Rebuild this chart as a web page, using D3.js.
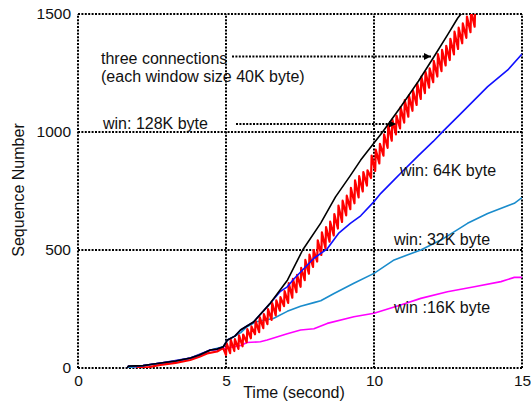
<!DOCTYPE html>
<html><head><meta charset="utf-8">
<script src="https://cdn.jsdelivr.net/npm/d3@7"></script>
<style>
html,body{margin:0;padding:0;background:#fff;}
text{font-family:"Liberation Sans",Arial,sans-serif;fill:#111;}
</style></head>
<body><svg id="c" width="531" height="403"></svg>
<script>
// ---------- data ----------
const xTicks = [0, 5, 10, 15];
const yTicks = [0, 500, 1000, 1500];

const blackTime = [1.66,1.7,2.2,2.5,2.8,3.3,3.8,4.1,4.47,4.7,4.91,5.05,5.3,5.49,5.93,6.5,7.08,7.59,8.2,8.7,9.2,9.55,10.29,10.9,11.5,12.02,12.5,12.83,12.94,13.1];
const blackSeq  = [0,8,10,16,21,30,42,55,76,80,90,119,135,161,195,275,373,500,614,725,815,881,1000,1106,1215,1318,1415,1483,1500,1530];

const blueTime = [1.66,1.7,2.2,2.5,2.8,3.3,3.8,4.1,4.47,4.7,4.91,5.05,5.3,5.49,5.93,6.5,6.84,7.07,7.3,7.97,8.42,8.8,9.2,9.55,10.0,10.23,10.68,10.9,11.5,12.0,12.37,12.94,13.84,14.52,15.0];
const blueSeq  = [0,8,10,16,21,30,42,55,76,80,90,119,135,161,195,275,325,344,378,465,505,570,613,645,705,740,797,825,900,960,1008,1079,1192,1263,1330];

const cyanTime = [1.66,2.8,3.8,4.47,4.91,5.05,5.3,5.5,5.71,6.0,6.3,6.6,7.07,7.52,8.0,8.2,8.65,9.32,10.0,10.68,11.1,11.58,12.26,13.16,13.84,14.74,15.0];
const cyanSeq  = [0,21,42,76,90,119,135,150,175,195,203,210,240,262,278,285,316,359,401,458,478,500,542,613,655,698,722];

const magentaTime = [1.66,2.8,3.8,4.47,4.7,5.03,5.5,5.71,6.16,6.39,7.07,7.52,7.97,8.42,9.32,10.0,10.9,11.58,12.48,13.39,14.29,14.74,15.0];
const magentaSeq  = [0,21,42,76,78,85,95,108,111,119,145,161,166,189,217,232,267,295,323,344,366,384,384];

// red (three connections): slow start, then saw-tooth band read as low / high envelope per tooth
const redStartTime = [1.99,2.4,2.78,3.3,3.79,4.1,4.36,4.7,4.9];
const redStartSeq  = [0,4,13,22,34,48,62,70,85];
const redToothTime = [5.00,5.14,5.28,5.42,5.56,5.70,5.84,5.98,6.12,6.26,6.40,6.54,6.68,6.82,6.96,7.10,7.24,7.38,7.52,7.66,7.80,7.94,8.08,8.22,8.36,8.50,8.64,8.78,8.92,9.06,9.20,9.34,9.48,9.62,9.76,9.90,10.04,10.18,10.32,10.46,10.60,10.74,10.88,11.02,11.16,11.30,11.44,11.58,11.72,11.86,12.00,12.14,12.28,12.42,12.56,12.70,12.84,12.98,13.12,13.26,13.40];
const redToothLow  = [55,63,72,81,92,109,126,143,152,169,186,204,223,243,262,276,298,321,344,372,400,428,451,479,507,535,562,591,619,647,673,698,723,748,773,805,835,867,900,933,963,990,1015,1040,1065,1090,1115,1140,1165,1188,1211,1235,1258,1282,1305,1329,1352,1376,1399,1423,1446];
const redToothHigh = [105,120,122,138,142,165,176,200,216,228,250,275,287,300,326,360,378,395,424,458,480,500,541,575,597,620,652,688,709,730,763,795,813,830,838,900,925,950,990,1030,1053,1070,1105,1135,1155,1175,1205,1235,1255,1270,1301,1330,1348,1365,1395,1425,1442,1460,1489,1513,1536];

// ---------- chart ----------
const svg = d3.select("#c");
const x = d3.scaleLinear().domain([0, 15]).range([78, 522]);
const y = d3.scaleLinear().domain([0, 1500]).range([368, 14]);

const defs = svg.append("defs");
defs.append("clipPath").attr("id","clip")
  .append("rect").attr("x",78).attr("y",14).attr("width",444).attr("height",354);
const mk = defs.append("marker").attr("id","arr")
  .attr("viewBox","0 0 10 10").attr("refX",10).attr("refY",5)
  .attr("markerWidth",13).attr("markerHeight",7).attr("markerUnits","userSpaceOnUse")
  .attr("orient","auto");
mk.append("path").attr("d","M0,0L10,5L0,10Z").attr("fill","#000");

function dl(sel){ return sel.attr("stroke","#000").attr("stroke-width",2).attr("stroke-dasharray","2,1.4"); }

// grid lines / frame
const gx = svg.append("g");
xTicks.forEach(t => dl(gx.append("line").attr("x1",x(t)).attr("x2",x(t)).attr("y1",y(0)).attr("y2",y(1500))));
yTicks.forEach(t => dl(gx.append("line").attr("x1",x(0)).attr("x2",x(15)).attr("y1",y(t)).attr("y2",y(t))));

// axes (labels only)
const fmt = d3.format("d");
const ya = svg.append("g").attr("transform",`translate(${x(0)},0)`)
  .call(d3.axisLeft(y).tickValues(yTicks).tickFormat(fmt).tickSize(0).tickPadding(7));
ya.select(".domain").remove();
ya.selectAll("text").style("font-size","15.5px").style("font-family","Liberation Sans, Arial, sans-serif").attr("fill","#111");
const xa = svg.append("g").attr("transform",`translate(0,${y(0)})`)
  .call(d3.axisBottom(x).tickValues(xTicks).tickFormat(fmt).tickSize(0).tickPadding(7));
xa.select(".domain").remove();
xa.selectAll("text").style("font-size","15.5px").style("font-family","Liberation Sans, Arial, sans-serif").attr("fill","#111");

svg.append("text").attr("x",294).attr("y",398).attr("text-anchor","middle").style("font-size","16px").text("Time (second)");
svg.append("text").attr("transform","translate(24,190) rotate(-90)").attr("text-anchor","middle").style("font-size","16px").text("Sequence Number");

// series
const line = d3.line().x(d => x(d[0])).y(d => y(d[1]));
const plot = svg.append("g").attr("clip-path","url(#clip)");
function draw(pts, c, w){
  plot.append("path").datum(pts).attr("d", line)
    .attr("fill","none").attr("stroke", c).attr("stroke-width", w).attr("stroke-linejoin","round");
}
draw(d3.zip(magentaTime, magentaSeq), "#ff00ff", 1.6);
draw(d3.zip(cyanTime, cyanSeq), "#1a8ccc", 1.6);
const redPts = d3.zip(redStartTime, redStartSeq);
redToothTime.forEach((t, i) => { redPts.push([t, redToothLow[i]]); redPts.push([t + 0.02, redToothHigh[i]]); });
draw(redPts, "#ff0000", 2.2);
draw(d3.zip(blueTime, blueSeq), "#1010ff", 1.6);
draw(d3.zip(blackTime, blackSeq), "#000000", 1.6);

// annotations
const ann = svg.append("g").style("font-size","16px");
ann.append("text").attr("x",101).attr("y",64).text("three connections");
ann.append("text").attr("x",101).attr("y",82).text("(each window size 40K byte)");
ann.append("text").attr("x",103).attr("y",129).text("win: 128K byte");
ann.append("text").attr("x",400).attr("y",176).text("win: 64K byte");
ann.append("text").attr("x",394).attr("y",245).text("win: 32K byte");
ann.append("text").attr("x",394).attr("y",313).text("win :16K byte");
dl(svg.append("line").attr("x1",232).attr("x2",431).attr("y1",56.5).attr("y2",56.5)).attr("marker-end","url(#arr)");
dl(svg.append("line").attr("x1",236).attr("x2",396).attr("y1",124).attr("y2",124)).attr("marker-end","url(#arr)");
</script></body></html>
